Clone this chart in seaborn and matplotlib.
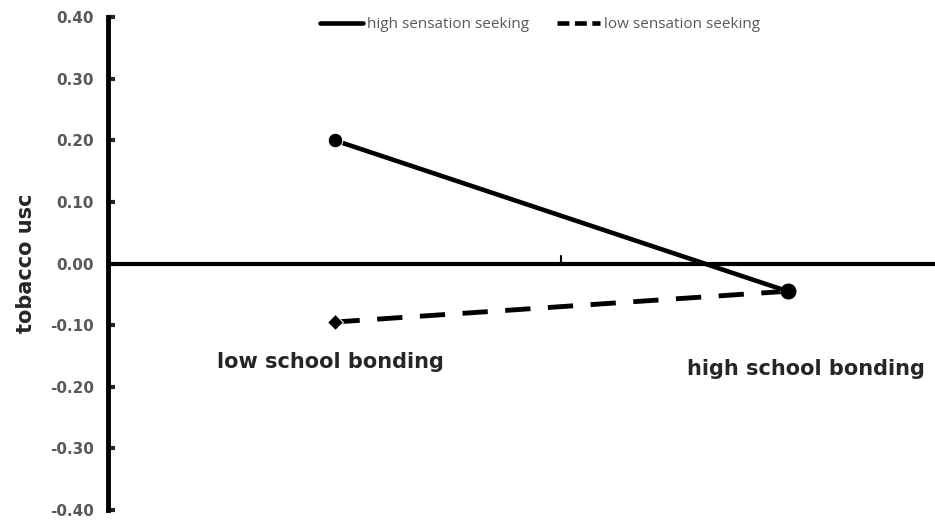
import pandas as pd
import matplotlib
matplotlib.use("Agg")
import matplotlib.pyplot as plt
import seaborn as sns
from matplotlib.lines import Line2D

bonding = ["low school bonding", "high school bonding"]
high_ss = [0.20, -0.045]
low_ss = [-0.095, -0.045]
series_names = ["high sensation seeking", "low sensation seeking"]
yticks = [-0.40, -0.30, -0.20, -0.10, 0.00, 0.10, 0.20, 0.30, 0.40]

df = pd.DataFrame({
    "pos": [0, 1, 0, 1],
    "tobacco": high_ss + low_ss,
    "group": [series_names[0]] * 2 + [series_names[1]] * 2,
})

sns.set_style("white")
plt.rcParams["font.family"] = ["DejaVu Sans"]

fig = plt.figure(figsize=(9.35, 5.23), dpi=100)
ax = fig.add_axes([108 / 935, 13 / 523, 906 / 935, 493 / 523])

sns.lineplot(data=df[df.group == series_names[0]], x="pos", y="tobacco",
             color="black", lw=3.3, marker="o", markersize=10.5, ax=ax, legend=False)
sns.lineplot(data=df[df.group == series_names[1]], x="pos", y="tobacco",
             color="black", lw=3.5, marker="D", markersize=8.5, ax=ax, legend=False)
ax.lines[1].set_dashes([5.2, 3.6])
# redraw high marker on top
ax.plot([1], [high_ss[1]], "o", color="black", markersize=10.5, zorder=5)

ax.set_xlim(-0.5, 1.5)
ax.set_ylim(-0.40, 0.40)
ax.set_yticks(yticks)
ax.set_yticklabels(["%.2f" % v for v in yticks], color="#595959",
                   fontweight="bold", fontsize=11)
ax.set_xticks([])
ax.set_xlabel("")
ax.set_ylabel("tobacco usc", fontweight="bold", fontsize=15, labelpad=10)

for s in ["top", "right", "bottom"]:
    ax.spines[s].set_visible(False)
ax.spines["left"].set_linewidth(3.5)
ax.spines["left"].set_color("black")
ax.tick_params(axis="y", direction="in", length=5, width=3, left=True, pad=10)

ax.axhline(0, color="black", lw=3, zorder=1)
ax.plot([0.5, 0.5], [0, 0.012], color="black", lw=1.5)

ax.text(-0.01, -0.16, bonding[0], ha="center", va="center",
        fontweight="bold", fontsize=15)
ax.text(1.04, -0.172, bonding[1], ha="center", va="center",
        fontweight="bold", fontsize=15)

handles = [Line2D([], [], color="black", lw=3.3),
           Line2D([], [], color="black", lw=3.3, dashes=[2.6, 1.2])]
leg = ax.legend(handles, series_names, loc="center left",
                bbox_to_anchor=(212 / 906, 0.984), ncol=2, frameon=False,
                handlelength=2.8, handletextpad=0.3, columnspacing=1.8,
                borderaxespad=0, borderpad=0,
                prop={"family": "Open Sans", "size": 11})
for t in leg.get_texts():
    t.set_color("#595959")

fig.savefig("out.png", dpi=100)
